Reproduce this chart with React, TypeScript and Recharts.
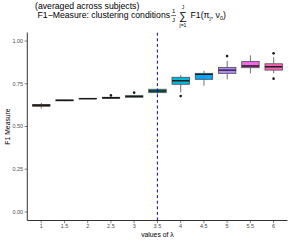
import React from 'react';
import { ComposedChart, Bar, Line, XAxis, YAxis, ReferenceLine } from 'recharts';

const categories = ['1', '1.5', '2', '2.5', '3', '3.5', '4', '4.5', '5', '5.5', '6'];
const whiskerLow = [0.606, 0.648, 0.66, 0.664, 0.667, 0.69, 0.7, 0.739, 0.776, 0.811, 0.811];
const quart1 = [0.618, 0.65, 0.661, 0.665, 0.671, 0.698, 0.747, 0.776, 0.811, 0.844, 0.83];
const medians = [0.624, 0.653, 0.663, 0.668, 0.676, 0.708, 0.768, 0.805, 0.83, 0.854, 0.85];
const quart3 = [0.629, 0.656, 0.665, 0.671, 0.68, 0.718, 0.788, 0.811, 0.846, 0.881, 0.867];
const whiskerHigh = [0.638, 0.657, 0.666, 0.673, 0.684, 0.722, 0.8, 0.826, 0.885, 0.916, 0.905];
const outliersA = [null, null, null, 0.682, 0.698, null, 0.678, null, 0.912, null, 0.928];
const outliersB = [null, null, null, null, null, null, null, null, null, null, 0.78];
const fillColors = ['#F8766D', '#DB8E00', '#AEA200', '#64B200', '#00BD5C', '#00C1A7', '#00BADE', '#00A6FF', '#B385FF', '#EF67EB', '#FF63B6'];
const yTicks = [0, 0.25, 0.5, 0.75, 1];

const data = categories.map((c, i) => ({
  cat: c,
  range: [whiskerLow[i], whiskerHigh[i]],
  lo: whiskerLow[i],
  q1: quart1[i],
  med: medians[i],
  q3: quart3[i],
  hi: whiskerHigh[i],
  outA: outliersA[i],
  outB: outliersB[i],
  fill: fillColors[i],
}));

const FONT = '"Liberation Sans", Arial, Helvetica, sans-serif';

function BoxShape(props: any) {
  const { x, y, width, height, payload } = props;
  if (payload == null || x == null) return null;
  const top = Math.min(y, y + height);
  const h = Math.abs(height);
  const span = payload.hi - payload.lo;
  const py = (v: number) => top + ((payload.hi - v) / span) * h;
  const cx = x + width / 2;
  const yHi = py(payload.hi);
  const yQ3 = py(payload.q3);
  const yMed = py(payload.med);
  const yQ1 = py(payload.q1);
  const yLo = py(payload.lo);
  return (
    <g>
      <line x1={cx} x2={cx} y1={yHi} y2={yQ3} stroke="#4d4d4d" strokeWidth={0.8} />
      <line x1={cx} x2={cx} y1={yQ1} y2={yLo} stroke="#4d4d4d" strokeWidth={0.8} />
      <rect x={x} y={yQ3} width={width} height={Math.max(yQ1 - yQ3, 0.5)} fill={payload.fill} stroke="#4d4d4d" strokeWidth={0.8} />
      <line x1={x} x2={x + width} y1={yMed} y2={yMed} stroke="#1a1a1a" strokeWidth={1.4} />
    </g>
  );
}

function OutlierDot(props: any) {
  const { cx, cy, value, index } = props;
  if (value == null || cy == null || isNaN(cy)) return null;
  return <circle key={index} cx={cx} cy={cy} r={1.3} fill="#1a1a1a" />;
}

export default function App() {
  return (
    <div style={{ position: 'absolute', left: 0, top: 0, width: 291, height: 242, background: '#fff' }}>
      <ComposedChart width={291} height={242} data={data} margin={{ top: 32.5, right: 3.5, left: 0, bottom: 0 }}>
        <XAxis
          dataKey="cat"
          type="category"
          interval={0}
          padding={{ left: 2.3, right: 2.3 }}
          height={21.5}
          tickSize={2.7}
          tickMargin={1}
          tick={{ fontSize: 5.5, fill: '#4D4D4D', fontFamily: FONT }}
          tickLine={{ stroke: '#333333', strokeWidth: 0.6 }}
          axisLine={{ stroke: '#000', strokeWidth: 0.8 }}
        />
        <YAxis
          type="number"
          domain={[-0.05, 1.05]}
          ticks={yTicks}
          width={27.3}
          tickSize={2.7}
          tickMargin={1.5}
          tickFormatter={(v: number) => v.toFixed(2)}
          tick={{ fontSize: 5.5, fill: '#4D4D4D', fontFamily: FONT }}
          tickLine={{ stroke: '#333333', strokeWidth: 0.6 }}
          axisLine={{ stroke: '#000', strokeWidth: 0.8 }}
          allowDataOverflow
        />
        <Bar dataKey="range" barSize={17.4} shape={<BoxShape />} isAnimationActive={false} />
        <ReferenceLine x="3.5" stroke="#0000ff" strokeWidth={1} strokeDasharray="3 2.6" />
        <Line dataKey="outA" stroke="none" dot={OutlierDot} activeDot={false} isAnimationActive={false} legendType="none" />
        <Line dataKey="outB" stroke="none" dot={OutlierDot} activeDot={false} isAnimationActive={false} legendType="none" />
      </ComposedChart>
      <svg width={291} height={242} style={{ position: 'absolute', left: 0, top: 0, pointerEvents: 'none' }} fontFamily={FONT}>
        <text x={35} y={8.5} fontSize={8.7} fill="#000">(averaged across subjects)</text>
        <text x={37.5} y={18} fontSize={8.7} fill="#000">F1−Measure: clustering conditions</text>
        <text x={173.6} y={13.4} fontSize={6} textAnchor="middle" fill="#000">1</text>
        <line x1={171.2} x2={176} y1={15.6} y2={15.6} stroke="#000" strokeWidth={0.6} />
        <text x={173.6} y={22} fontSize={6} textAnchor="middle" fill="#000">J</text>
        <text x={183} y={20} fontSize={11} textAnchor="middle" fill="#000">∑</text>
        <text x={183} y={8.8} fontSize={5} textAnchor="middle" fill="#000">J</text>
        <text x={183} y={27} fontSize={5} textAnchor="middle" fill="#000">j=1</text>
        <text x={190.5} y={18} fontSize={8.7} fill="#000">
          F1(π<tspan dy={2} fontSize={5.5}>j</tspan><tspan dy={-2}>, ν</tspan><tspan dy={2} fontSize={5.5}>0</tspan><tspan dy={-2}>)</tspan>
        </text>
        <text x={157.4} y={237} fontSize={6.8} textAnchor="middle" fill="#000">values of λ</text>
        <text x={0} y={0} fontSize={6.8} textAnchor="middle" fill="#000" transform="translate(9.5,126.5) rotate(-90)">F1 Measure</text>
      </svg>
    </div>
  );
}
